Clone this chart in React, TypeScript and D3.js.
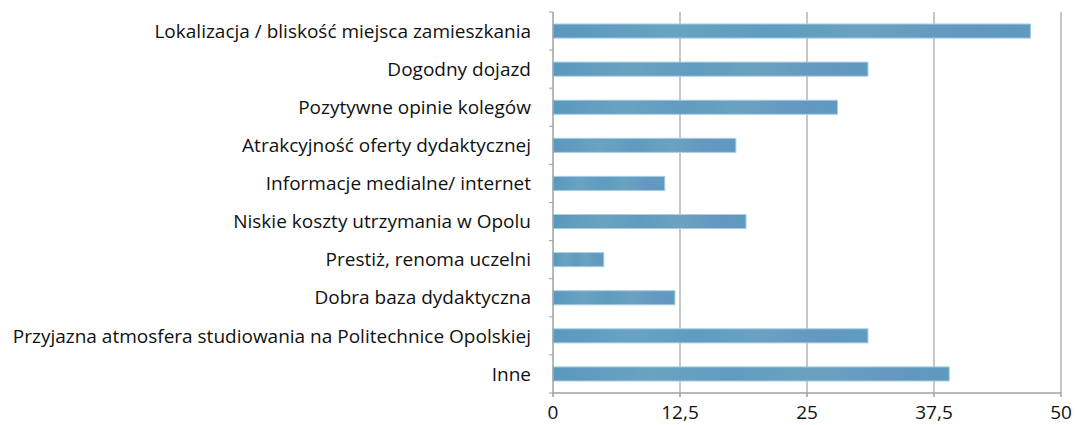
import * as d3 from "d3";

const categories = [
  "Lokalizacja / bliskość miejsca zamieszkania",
  "Dogodny dojazd",
  "Pozytywne opinie kolegów",
  "Atrakcyjność oferty dydaktycznej",
  "Informacje medialne/ internet",
  "Niskie koszty utrzymania w Opolu",
  "Prestiż, renoma uczelni",
  "Dobra baza dydaktyczna",
  "Przyjazna atmosfera studiowania na Politechnice Opolskiej",
  "Inne",
];
const values = [47, 31, 28, 18, 11, 19, 5, 12, 31, 39];
const ticks = [0, 12.5, 25, 37.5, 50];

const width = 1078;
const height = 425;
const margin = { top: 12, right: 17, bottom: 32, left: 553 };
const font = "'Open Sans', 'Liberation Sans', sans-serif";

const App = () => {
  const x = d3.scaleLinear().domain([0, 50]).range([margin.left, width - margin.right]);
  const y = d3
    .scaleBand()
    .domain(categories)
    .range([margin.top, height - margin.bottom])
    .paddingInner(0.63)
    .paddingOuter(0.315);
  const step = y.step();
  const bottom = height - margin.bottom;
  const fmt = (v) => String(v).replace(".", ",");

  return (
    <svg
      width={width}
      height={height}
      style={{ position: "absolute", left: 0, top: 0, background: "#fff" }}
    >
      <defs>
        <linearGradient id="barFill" x1="0" x2="1" y1="0" y2="0">
          <stop offset="0" stopColor="#5a98bd" />
          <stop offset="0.25" stopColor="#6aa3c2" />
          <stop offset="0.45" stopColor="#5f9cbf" />
          <stop offset="0.65" stopColor="#6ba2c0" />
          <stop offset="0.85" stopColor="#6498c0" />
          <stop offset="1" stopColor="#5f9abf" />
        </linearGradient>
      </defs>

      {/* gridlines */}
      {ticks.slice(1).map((t) => (
        <line
          key={t}
          x1={x(t)}
          x2={x(t)}
          y1={margin.top}
          y2={bottom}
          stroke="#b4b4b4"
          strokeWidth={1.5}
        />
      ))}

      {/* bars */}
      {categories.map((c, i) => (
        <rect
          key={c}
          x={x(0)}
          y={y(c)}
          width={x(values[i]) - x(0)}
          height={y.bandwidth()}
          fill="url(#barFill)"
          stroke="#a8cfe3"
          strokeWidth={1}
        />
      ))}

      {/* y axis */}
      <line x1={x(0)} x2={x(0)} y1={margin.top} y2={bottom} stroke="#a0a0a0" strokeWidth={1.5} />
      {d3.range(categories.length + 1).map((i) => (
        <line
          key={i}
          x1={x(0) - 4}
          x2={x(0)}
          y1={margin.top + i * step}
          y2={margin.top + i * step}
          stroke="#a0a0a0"
          strokeWidth={1}
        />
      ))}
      {categories.map((c) => (
        <text
          key={c}
          x={x(0) - 22}
          y={y(c) + y.bandwidth() / 2}
          dy="0.35em"
          textAnchor="end"
          fontFamily={font}
          fontSize={19}
          fill="#111"
        >
          {c}
        </text>
      ))}

      {/* x axis */}
      <line x1={x(0)} x2={x(50)} y1={bottom} y2={bottom} stroke="#a0a0a0" strokeWidth={1.5} />
      {ticks.map((t) => (
        <g key={t}>
          <line x1={x(t)} x2={x(t)} y1={bottom} y2={bottom + 4} stroke="#a0a0a0" strokeWidth={1.5} />
          <text
            x={x(t)}
            y={bottom + 19}
            dy="0.35em"
            textAnchor="middle"
            fontFamily={font}
            fontSize={19}
            fill="#111"
          >
            {fmt(t)}
          </text>
        </g>
      ))}
    </svg>
  );
};

export default App;
